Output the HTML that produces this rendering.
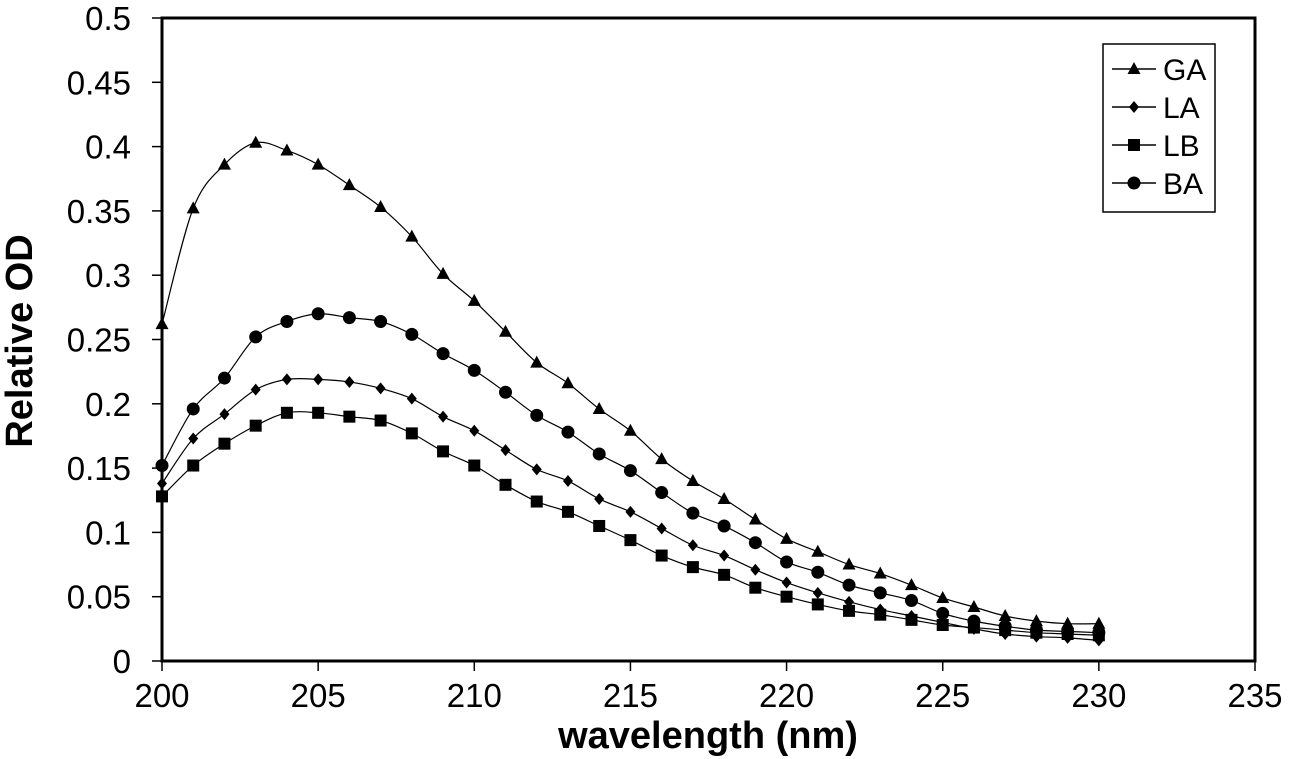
<!DOCTYPE html>
<html><head><meta charset="utf-8"><style>
html,body{margin:0;padding:0;background:#fff;}
svg{display:block;font-family:"Liberation Sans",Arial,sans-serif;}
</style></head><body>
<svg id="chart" width="1289" height="759" xmlns="http://www.w3.org/2000/svg"></svg>
<script>
const wavelengths=[200,201,202,203,204,205,206,207,208,209,210,211,212,213,214,215,216,217,218,219,220,221,222,223,224,225,226,227,228,229,230];
const gaValues=[0.262,0.352,0.386,0.403,0.397,0.386,0.370,0.353,0.330,0.301,0.280,0.256,0.232,0.216,0.196,0.179,0.157,0.140,0.126,0.110,0.095,0.085,0.075,0.068,0.059,0.049,0.042,0.035,0.031,0.029,0.029];
const laValues=[0.138,0.173,0.192,0.211,0.219,0.219,0.217,0.212,0.204,0.190,0.179,0.164,0.149,0.140,0.126,0.116,0.103,0.090,0.082,0.071,0.061,0.053,0.046,0.040,0.035,0.030,0.025,0.021,0.019,0.018,0.016];
const lbValues=[0.128,0.152,0.169,0.183,0.193,0.193,0.190,0.187,0.177,0.163,0.152,0.137,0.124,0.116,0.105,0.094,0.082,0.073,0.067,0.057,0.050,0.044,0.039,0.036,0.032,0.028,0.026,0.024,0.022,0.021,0.020];
const baValues=[0.152,0.196,0.220,0.252,0.264,0.270,0.267,0.264,0.254,0.239,0.226,0.209,0.191,0.178,0.161,0.148,0.131,0.115,0.105,0.092,0.077,0.069,0.059,0.053,0.047,0.037,0.031,0.027,0.024,0.023,0.022];
const xTicks=[200,205,210,215,220,225,230,235];
const yTicks=[0,0.05,0.1,0.15,0.2,0.25,0.3,0.35,0.4,0.45,0.5];
const yTickLabels=["0","0.05","0.1","0.15","0.2","0.25","0.3","0.35","0.4","0.45","0.5"];

const svg=document.getElementById('chart');
const NS="http://www.w3.org/2000/svg";
const X0=162,X1=1255,Y0=661,Y1=18;
const xs=v=>X0+(v-200)/35*(X1-X0);
const ys=v=>Y0-v/0.5*(Y0-Y1);
function mk(tag,attrs,parent){const e=document.createElementNS(NS,tag);for(const k in attrs)e.setAttribute(k,attrs[k]);(parent||svg).appendChild(e);return e;}

let e;
e=mk('rect',{x:X0,y:Y1,width:X1-X0,height:Y0-Y1,fill:'none',stroke:'#000','stroke-width':3});



yTicks.forEach((t,i)=>{
  const y=ys(t);
  let l=mk('line',{x1:X0-10,x2:X0,y1:y,y2:y,stroke:'#000','stroke-width':1.5});
  
  
  let tx=mk('text',{x:X0-31,y:y+12,'text-anchor':'end','font-size':33});
  tx.textContent=yTickLabels[i];
  
  
});
xTicks.forEach(t=>{
  const x=xs(t);
  let l=mk('line',{x1:x,x2:x,y1:Y0,y2:Y0+10,stroke:'#000','stroke-width':1.5});
  
  
  let tx=mk('text',{x:x,y:Y0+46,'text-anchor':'middle','font-size':33});
  tx.textContent=String(t);
  
  
});
e=mk('text',{x:708,y:748,'text-anchor':'middle','font-size':38,'font-weight':'bold'});
e.textContent='wavelength (nm)';


e=mk('text',{x:0,y:0,'text-anchor':'middle','font-size':38,'font-weight':'bold',transform:'translate(32,341) rotate(-90)'});
e.textContent='Relative OD';



function smoothPath(vals){
  const p=vals.map((v,i)=>[xs(wavelengths[i]),ys(v)]);
  let d=`M${p[0][0]},${p[0][1]}`;
  for(let i=0;i<p.length-1;i++){
    const a=p[i-1]||p[i],b=p[i],c=p[i+1],n=p[i+2]||c;
    d+=` C${b[0]+(c[0]-a[0])/6},${b[1]+(c[1]-a[1])/6} ${c[0]-(n[0]-b[0])/6},${c[1]-(n[1]-b[1])/6} ${c[0]},${c[1]}`;
  }
  return d;
}
function marker(type,x,y,g){
  if(type==='tri') return mk('polygon',{points:`${x},${y-7} ${x-6.5},${y+5} ${x+6.5},${y+5}`,fill:'#000'},g);
  if(type==='dia') return mk('polygon',{points:`${x},${y-6} ${x+5},${y} ${x},${y+6} ${x-5},${y}`,fill:'#000'},g);
  if(type==='sq') return mk('rect',{x:x-6,y:y-6,width:12,height:12,fill:'#000'},g);
  return mk('circle',{cx:x,cy:y,r:6.5,fill:'#000'},g);
}
const series=[['GA',gaValues,'tri'],['LA',laValues,'dia'],['LB',lbValues,'sq'],['BA',baValues,'circ']];
series.forEach(([name,vals,type])=>{
  const g=mk('g',{});
  
  
  const p=mk('path',{d:smoothPath(vals),fill:'none',stroke:'#000','stroke-width':1.2},g);
  
  
  vals.forEach((v,i)=>{
    const m=marker(type,xs(wavelengths[i]),ys(v),g);
    
    
  });
});

const lg=mk('g',{});


mk('rect',{x:1103,y:44,width:112,height:168,fill:'#fff',stroke:'#000','stroke-width':1.5},lg);
series.forEach(([name,vals,type],i)=>{
  const y=69+i*38;
  const g=mk('g',{},lg);
  
  
  mk('line',{x1:1112,x2:1156,y1:y,y2:y,stroke:'#000','stroke-width':1.5},g);
  marker(type,1134,y,g);
  const t=mk('text',{x:1163,y:y+11,'font-size':30},g);
  t.textContent=name;
});
</script>
</body></html>
